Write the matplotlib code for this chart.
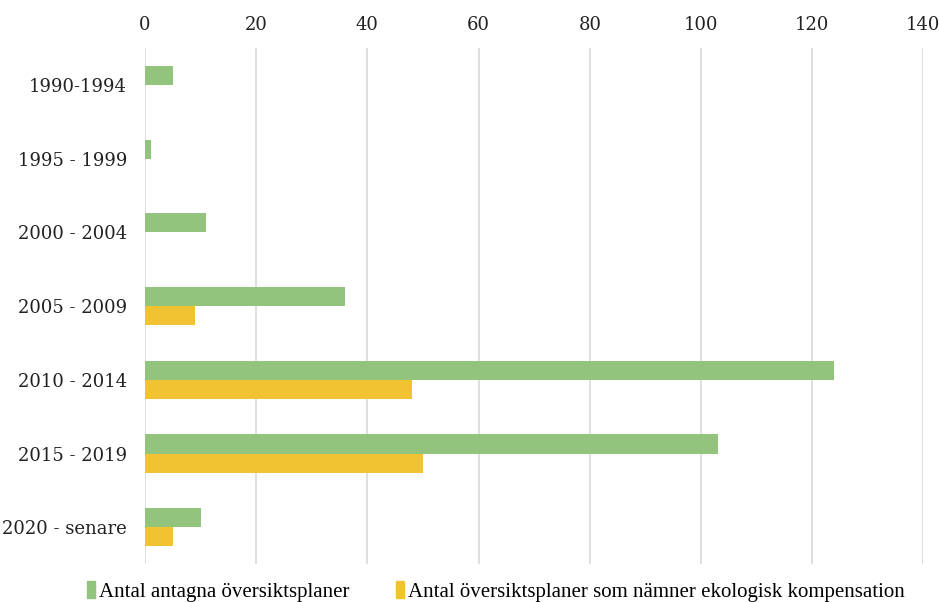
import numpy as np
import matplotlib.pyplot as plt
from matplotlib.patches import Patch

categories = ['1990-1994', '1995 - 1999', '2000 - 2004', '2005 - 2009',
              '2010 - 2014', '2015 - 2019', '2020 - senare']
antagna = [5, 1, 11, 36, 124, 103, 10]
ekologisk = [0, 0, 0, 9, 48, 50, 5]
xticks = [0, 20, 40, 60, 80, 100, 120, 140]

green = '#93c47d'
yellow = '#f1c232'

plt.rcParams['font.family'] = ['Liberation Serif', 'DejaVu Serif']

fig = plt.figure(figsize=(9.39, 6.02), dpi=100)
ax = fig.add_axes([0.1544, 0.063, 0.829, 0.857])

y = np.arange(len(categories))
h = 0.26
ax.barh(y - h / 2, antagna, height=h, color=green, zorder=3)
ax.barh(y + h / 2, ekologisk, height=h, color=yellow, zorder=3)

ax.set_ylim(len(categories) - 0.5, -0.5)
ax.set_xlim(0, 140)
ax.set_xticks(xticks)
ax.set_yticks(y)
ax.set_yticklabels(categories)
ax.xaxis.tick_top()
ax.tick_params(axis='both', length=0, labelsize=13, colors='#222222')
ax.tick_params(axis='x', pad=10)
ax.tick_params(axis='y', pad=13)
for lab in ax.get_xticklabels() + ax.get_yticklabels():
    lab.set_fontfamily('DejaVu Serif')
ax.grid(axis='x', color='#d9d9d9', linewidth=1.2, zorder=0)
for s in ax.spines.values():
    s.set_visible(False)

handles = [Patch(color=green, label='Antal antagna översiktsplaner'),
           Patch(color=yellow, label='Antal översiktsplaner som nämner ekologisk kompensation')]
fig.legend(handles=handles, loc='center', bbox_to_anchor=(0.528, 0.018), ncol=2,
           frameon=False, fontsize=15, handlelength=0.4, handleheight=0.9,
           handletextpad=0.2, columnspacing=2.2)

fig.savefig('out.png', dpi=100)
